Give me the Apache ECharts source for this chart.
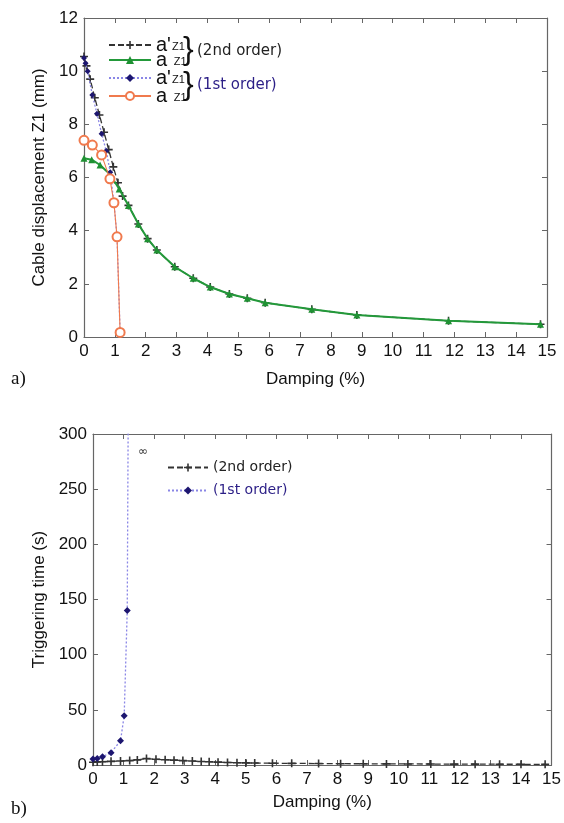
<!DOCTYPE html>
<html><head><meta charset="utf-8">
<script src="https://cdn.jsdelivr.net/npm/echarts@6/dist/echarts.min.js"></script>
<style>html,body{margin:0;padding:0;background:#fff}#c{width:564px;height:823px}</style>
</head><body><div id="c"></div><script>
// ---------- data: panel a) cable displacement (mm) ----------
const xTicks = [0,1,2,3,4,5,6,7,8,9,10,11,12,13,14,15];
const a2ndX = [0, 0.25, 0.52, 0.84, 1.14, 1.44, 1.76, 2.06, 2.36, 2.94, 3.54, 4.09, 4.71, 5.29, 5.87, 7.38, 8.84, 11.81, 14.79];
const a2ndY = [6.72, 6.67, 6.47, 6.12, 5.57, 4.95, 4.25, 3.70, 3.27, 2.64, 2.21, 1.88, 1.62, 1.46, 1.29, 1.04, 0.83, 0.61, 0.48];
const aP2ndX = [0, 0.08, 0.2, 0.35, 0.5, 0.65, 0.8, 0.95, 1.1, 1.25, 1.44, 1.76, 2.06, 2.36, 2.94, 3.54, 4.09, 4.71, 5.29, 5.87, 7.38, 8.84, 11.81, 14.79];
const aP2ndY = [10.55, 10.2, 9.7, 9.0, 8.35, 7.7, 7.05, 6.4, 5.8, 5.3, 4.95, 4.25, 3.70, 3.27, 2.64, 2.21, 1.88, 1.62, 1.46, 1.29, 1.04, 0.83, 0.61, 0.48];
const aP1stX = [0, 0.05, 0.12, 0.27, 0.42, 0.57, 0.72, 0.85, 0.97, 1.07, 1.17];
const aP1stY = [10.5, 10.3, 10.0, 9.1, 8.4, 7.65, 7.0, 6.2, 5.05, 3.77, 0.17];
const a1stX = [0, 0.27, 0.57, 0.84, 0.97, 1.07, 1.17];
const a1stY = [7.4, 7.22, 6.85, 5.95, 5.05, 3.77, 0.17];
// ---------- data: panel b) triggering time (s) ----------
const t2ndX = [0, 0.14, 0.31, 0.59, 0.9, 1.2, 1.45, 1.75, 2.06, 2.36, 2.65, 2.94, 3.25, 3.54, 3.8, 4.09, 4.4, 4.71, 5.0, 5.29, 5.87, 6.5, 7.38, 8.1, 8.84, 9.6, 10.3, 11.05, 11.81, 12.5, 13.3, 14.0, 14.79];
const t2ndY = [2.5, 2.8, 3.0, 3.3, 3.6, 4.0, 4.6, 5.8, 5.2, 4.8, 4.4, 4.0, 3.6, 3.2, 2.9, 2.6, 2.3, 2.1, 1.9, 1.8, 1.6, 1.5, 1.3, 1.2, 1.1, 1.0, 0.95, 0.9, 0.8, 0.75, 0.7, 0.65, 0.6];
const t1stX = [0, 0.14, 0.31, 0.59, 0.9, 1.02, 1.12, 1.17];
const t1stY = [5.4, 6.0, 7.5, 11.2, 22, 44.7, 140, 420];

const zip = (xs, ys) => xs.map((x, i) => [x, ys[i]]);

const FONT = 'Liberation Sans';
const PLUS = 'path://M4,0h2v4h4v2h-4v4h-2v-4h-4v-2h4z';
const axisLineStyle = {color: '#666', width: 1.2};

function mainX(gi, name, gap) {
  return {type: 'value', gridIndex: gi, min: 0, max: 15, interval: 1, position: 'bottom',
    axisLine: {onZero: false, lineStyle: axisLineStyle},
    axisTick: {inside: true, length: 5, lineStyle: {color: '#666'}},
    axisLabel: {fontFamily: FONT, fontSize: 17, color: '#111', margin: 6,
      formatter: v => xTicks.includes(v) ? String(v) : ''},
    splitLine: {show: false},
    name: name, nameLocation: 'middle', nameGap: gap,
    nameTextStyle: {fontFamily: FONT, fontSize: 17, color: '#111'}};
}
function mirrorX(gi) {
  return {type: 'value', gridIndex: gi, min: 0, max: 15, interval: 1, position: 'top',
    axisLine: {onZero: false, lineStyle: axisLineStyle},
    axisTick: {inside: true, length: 5, lineStyle: {color: '#666'}},
    axisLabel: {show: false}, splitLine: {show: false}};
}
function mainY(gi, max, interval, name, gap) {
  return {type: 'value', gridIndex: gi, min: 0, max: max, interval: interval, position: 'left',
    axisLine: {show: true, onZero: false, lineStyle: axisLineStyle},
    axisTick: {show: true, inside: true, length: 5, lineStyle: {color: '#666'}},
    axisLabel: {fontFamily: FONT, fontSize: 17, color: '#111', margin: 6},
    splitLine: {show: false},
    name: name, nameLocation: 'middle', nameGap: gap, nameRotate: 90,
    nameTextStyle: {fontFamily: FONT, fontSize: 17, color: '#111'}};
}
function mirrorY(gi, max, interval) {
  return {type: 'value', gridIndex: gi, min: 0, max: max, interval: interval, position: 'right',
    axisLine: {show: true, onZero: false, lineStyle: axisLineStyle},
    axisTick: {show: true, inside: true, length: 5, lineStyle: {color: '#666'}},
    axisLabel: {show: false}, splitLine: {show: false}};
}

const legendNames = {
  'aP2': "{a|a'}{s|Z1}", 'a2': "{a|a }{s|Z1}",
  'aP1': "{a|a'}{s|Z1}", 'a1': "{a|a }{s|Z1}",
  't2': '{o|(2nd order)}', 't1': '{n|(1st order)}'
};
const richText = {
  a: {fontFamily: FONT, fontSize: 20, color: '#111', lineHeight: 15},
  s: {fontFamily: FONT, fontSize: 11, color: '#111', lineHeight: 15, verticalAlign: 'bottom', padding: [0, 0, 0, 1]},
  o: {fontFamily: 'DejaVu Sans', fontSize: 14, color: '#222', lineHeight: 15},
  n: {fontFamily: 'DejaVu Sans', fontSize: 14, color: '#2b1e86', lineHeight: 15}
};
const legendBase = {orient: 'vertical', itemWidth: 42, itemHeight: 10, itemGap: 2, padding: 0,
  formatter: n => legendNames[n], textStyle: {rich: richText, lineHeight: 15}, selectedMode: false};

const option = {
  animation: false,
  backgroundColor: '#fff',
  grid: [
    {left: 84, top: 18, width: 463, height: 319},
    {left: 93, top: 434, width: 461, height: 331}
  ],
  xAxis: [mainX(0, 'Damping (%)', 34), mirrorX(0), mainX(1, 'Damping (%)', 29), mirrorX(1)],
  yAxis: [mainY(0, 12, 2, 'Cable displacement Z1 (mm)', 33), mirrorY(0, 12, 2),
          mainY(1, 300, 50, 'Triggering time (s)', 42), mirrorY(1, 300, 50)],
  legend: [
    Object.assign({}, legendBase, {left: 108, top: 35, data: ['aP2']}),
    Object.assign({}, legendBase, {left: 108, top: 50, data: ['a2']}),
    Object.assign({}, legendBase, {left: 108, top: 68, data: ['aP1']}),
    Object.assign({}, legendBase, {left: 108, top: 86, data: ['a1']}),
    Object.assign({}, legendBase, {left: 167, top: 460, itemWidth: 40, itemGap: 8, data: ['t2', 't1']})
  ],
  series: [
    {name: 'aP2', type: 'line', xAxisIndex: 0, yAxisIndex: 0, data: zip(aP2ndX, aP2ndY),
      lineStyle: {color: '#333', width: 1.3, type: [6, 3]}, itemStyle: {color: '#333'},
      symbol: PLUS, symbolSize: 8, z: 2},
    {name: 'a2', type: 'line', xAxisIndex: 0, yAxisIndex: 0, data: zip(a2ndX, a2ndY),
      lineStyle: {color: '#23993a', width: 2}, itemStyle: {color: '#1f9133'},
      symbol: 'triangle', symbolSize: 7, z: 3},
    {name: 'aP1', type: 'line', xAxisIndex: 0, yAxisIndex: 0, data: zip(aP1stX, aP1stY),
      lineStyle: {color: '#8a86e6', width: 1.3, type: [2, 2]}, itemStyle: {color: '#1d1670'},
      symbol: 'diamond', symbolSize: 6, z: 4},
    {name: 'a1', type: 'line', xAxisIndex: 0, yAxisIndex: 0, data: zip(a1stX, a1stY),
      lineStyle: {color: '#f07a4e', width: 1.1}, itemStyle: {color: '#f07a4e', borderColor: '#f07a4e', borderWidth: 1},
      symbol: 'emptyCircle', symbolSize: 9, z: 5},
    {name: 't2', type: 'line', xAxisIndex: 2, yAxisIndex: 2, data: zip(t2ndX, t2ndY),
      lineStyle: {color: '#333', width: 1.3, type: [6, 3]}, itemStyle: {color: '#333'},
      symbol: PLUS, symbolSize: 8, z: 2},
    {name: 't1', type: 'line', xAxisIndex: 2, yAxisIndex: 2, data: zip(t1stX, t1stY),
      lineStyle: {color: '#8a86e6', width: 1.3, type: [2, 2]}, itemStyle: {color: '#1d1670'},
      symbol: 'diamond', symbolSize: 7, z: 3, clip: true}
  ],
  graphic: [
    {type: 'text', left: 183, top: 34, style: {text: '}', font: '32px "Liberation Sans"', fill: '#111'}},
    {type: 'text', left: 197, top: 44, style: {text: '(2nd order)', font: '15px "DejaVu Sans"', fill: '#222'}},
    {type: 'text', left: 183, top: 69, style: {text: '}', font: '32px "Liberation Sans"', fill: '#111'}},
    {type: 'text', left: 197, top: 78, style: {text: '(1st order)', font: '15px "DejaVu Sans"', fill: '#2b1e86'}},
    {type: 'text', left: 138, top: 446, style: {text: '\u221E', font: '12px "DejaVu Sans"', fill: '#333'}},
    {type: 'text', left: 11, top: 370, style: {text: 'a)', font: '19px "Liberation Serif"', fill: '#111'}},
    {type: 'text', left: 11, top: 800, style: {text: 'b)', font: '19px "Liberation Serif"', fill: '#111'}}
  ]
};
const chart = echarts.init(document.getElementById('c'), null, {renderer: 'canvas'});
chart.setOption(option);
</script></body></html>
